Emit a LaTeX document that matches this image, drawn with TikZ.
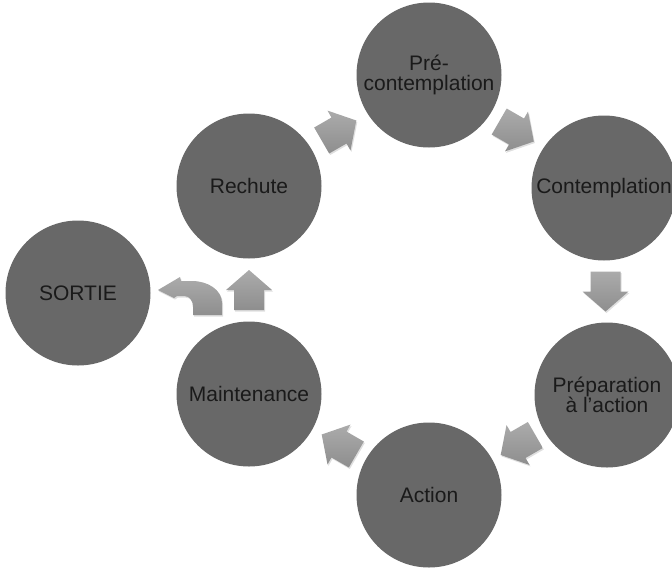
\documentclass[tikz,border=0pt]{standalone}
\usepackage{fontspec}
\setmainfont{Liberation Sans}
\usetikzlibrary{calc,shadows}
\definecolor{disc}{HTML}{686868}
\definecolor{ink}{HTML}{1A1A1A}
\definecolor{arrowlight}{HTML}{ABABAB}
\definecolor{arrowdark}{HTML}{8E8E8E}

\begin{document}
\begin{tikzpicture}[x=1pt,y=-1pt,
  stage/.style={circle, fill=disc, minimum size=145pt, inner sep=0pt,
    text=ink, font=\fontsize{21}{20}\selectfont, align=center},
  arrowbody/.style={top color=arrowlight, bottom color=arrowdark,
    drop shadow={opacity=0.25, shadow xshift=1pt, shadow yshift=-1.5pt}},
  blockarrow/.pic={
    \path[arrowbody] (-20,-15) -- (0,-15) -- (0,-23) -- (20,0)
      -- (0,23) -- (0,15) -- (-20,15) -- cycle;}]
\useasboundingbox (0,0) rectangle (672,568);

% the stages of the cycle
\node[stage] (pre)      at (429,75)  {Pré-\\contemplation};
\node[stage] (contemp)  at (604,188) {Contemplation};
\node[stage] (prep)     at (607,395) {Préparation\\à l’action};
\node[stage] (action)   at (429,495) {Action};
\node[stage] (maint)    at (249,394) {Maintenance};
\node[stage] (rechute)  at (249,186) {Rechute};
\node[stage] (sortie)   at (78,293)  {SORTIE};

% block arrows between consecutive stages
\pic[rotate=30]   at ($(rechute)!0.5!(pre)$)     {blockarrow};
\pic[rotate=-30]  at ($(pre)!0.5!(contemp)$)     {blockarrow};
\pic[rotate=-90]  at ($(contemp)!0.5!(prep)$)    {blockarrow};
\pic[rotate=-150] at ($(prep)!0.5!(action)$)     {blockarrow};
\pic[rotate=150]  at ($(action)!0.5!(maint)$)    {blockarrow};
\pic[rotate=90]   at ($(maint)!0.5!(rechute)$)   {blockarrow};

% bent arrow leading out to the exit
\path[arrowbody] (193,315) -- (222,315) -- (222,303)
  .. controls (222,290) and (208,281) .. (192,281) -- (181,281)
  -- (180,277) -- (158,290) -- (174,298) -- (177,296) -- (184,296)
  .. controls (190,296) and (193,301) .. (193,307) -- cycle;
\end{tikzpicture}
\end{document}
